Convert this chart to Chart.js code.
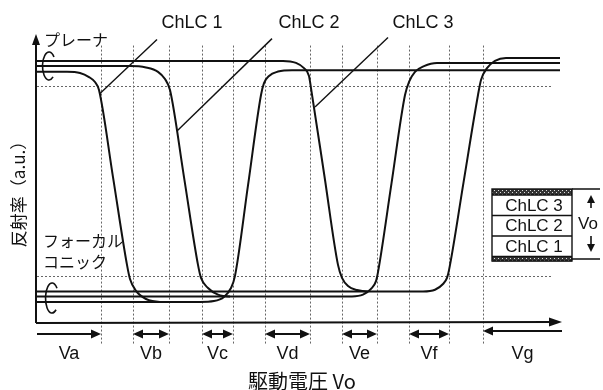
<!DOCTYPE html>
<html lang="ja">
<head>
<meta charset="utf-8">
<script src="https://cdn.jsdelivr.net/npm/chart.js@4.4.1/dist/chart.umd.min.js"></script>
<style>
  html, body { margin: 0; padding: 0; background: #ffffff; }
  #wrap { width: 603px; height: 390px; }
</style>
</head>
<body>
<div id="wrap"><canvas id="grafica" width="603" height="390"></canvas></div>
<script>
// Reflectance curves (x = drive voltage, y = reflectance a.u.)
// Path starting from the planar state
const chlc1Planar = [[0,86.9],[6,86.9],[8.6,86.5],[10.4,85.1],[11.6,83.4],[12.4,80.6],[15.2,50.5],[18,20.1],[18.6,15.2],[19.8,11.1],[21.8,8.3],[24.6,7.3],[32.6,7.3],[35.4,7.6],[37.4,9.0],[38.8,12.1],[39.6,16.3],[42.2,47.6],[44.8,78.9],[45.4,83.0],[46.4,85.5],[48.2,87.0],[51,87.5],[104.6,87.5]];
const chlc2Planar = [[0,88.9],[18.6,88.9],[21.8,88.4],[24.2,86.9],[25.6,84.4],[26.6,80.6],[29.4,50.5],[32.2,20.1],[32.8,15.6],[34.2,12.1],[36.2,9.8],[38.6,9.2],[63,9.2],[65.2,9.8],[66.8,11.8],[67.8,14.5],[68.2,17.6],[70.9,48.3],[73.6,78.9],[74.4,83.4],[75.6,86.9],[77.4,88.9],[80,90],[104.6,90]];
const chlc3Planar = [[0,90.7],[49.2,90.7],[51.8,90.0],[53.4,88.2],[54.4,85.5],[54.8,81.3],[57.5,50.7],[60.2,20.1],[61,15.6],[62.2,12.8],[64,11.4],[66.2,10.9],[77.2,10.9],[79.6,11.5],[81.2,13.5],[82,15.6],[82.4,18.3],[85.3,48.6],[88.2,78.9],[88.8,84.1],[90,88.2],[91.6,90.7],[93.8,91.7],[104.6,91.7]];

// Path starting from the focal conic state
const chlc1Focal = [[0,7.3],[32.6,7.3]];
const chlc2Focal = [[0,9.2],[38.6,9.2]];
const chlc3Focal = [[0,10.9],[66.2,10.9]];

// Voltage boundaries (dotted verticals) and reflectance thresholds (dotted horizontals)
const boundaries = [12.8, 19.2, 26.4, 33, 39.2, 45.6, 54.6, 61, 68, 74.4, 82.4, 89.2];
const thresholds = [82.0, 16.3];

// Voltage ranges below the axis
const rangeLabels = ["Va", "Vb", "Vc", "Vd", "Ve", "Vf", "Vg"];
const rangeStart = [0, 19.2, 33, 45.6, 61, 74.4, 89.2];
const rangeEnd = [12.8, 26.4, 39.2, 54.6, 68, 82.4, 105];
const rangeHeads = ["right", "both", "both", "both", "both", "both", "left"];

// Curve names with leader lines [label x, leader from x,y, leader to x,y]
const curveNames = ["ChLC 1", "ChLC 2", "ChLC 3"];
const nameX = [31, 54.4, 77.2];
const leaderFrom = [[24, 98.1], [47, 98.4], [70.2, 98.8]];
const leaderTo = [[12.6, 79.4], [28, 66.4], [55.6, 74.7]];

// Layer stack shown on the right
const stackRows = ["ChLC 3", "ChLC 2", "ChLC 1"];

const toXY = arr => arr.map(p => ({ x: p[0], y: p[1] }));

const jpFont = '"Noto Sans CJK JP", "Noto Sans", sans-serif';
const latinFont = '"Liberation Sans", Arial, sans-serif';

// Draws a filled arrow head with its tip at (x, y) pointing along angle
function arrowHead(ctx, x, y, angle, len, half) {
    ctx.save();
    ctx.translate(x, y);
    ctx.rotate(angle);
    ctx.beginPath();
    ctx.moveTo(0, 0);
    ctx.lineTo(-len, -half);
    ctx.lineTo(-len, half);
    ctx.closePath();
    ctx.fill();
    ctx.restore();
}

// Small cross-hatch used on the top and bottom of the layer stack
function hatchPattern(ctx) {
    const c = document.createElement("canvas");
    c.width = 4;
    c.height = 4;
    const g = c.getContext("2d");
    g.fillStyle = "#333";
    g.fillRect(0, 0, 4, 4);
    g.fillStyle = "#ddd";
    g.fillRect(0, 0, 1, 1);
    g.fillRect(2, 2, 1, 1);
    return ctx.createPattern(c, "repeat");
}

const diagramPlugin = {
    id: "diagramPlugin",

    // Dotted guides under the curves
    beforeDatasetsDraw(chart) {
        const { ctx, scales: { x, y } } = chart;
        ctx.save();
        ctx.strokeStyle = "#666";
        ctx.lineWidth = 1;
        ctx.setLineDash([2, 2]);

        boundaries.forEach(v => {
            const px = Math.round(x.getPixelForValue(v)) + 0.5;
            ctx.beginPath();
            ctx.moveTo(px, y.getPixelForValue(96));
            ctx.lineTo(px, y.getPixelForValue(-7.6));
            ctx.stroke();
        });

        thresholds.forEach(t => {
            const py = Math.round(y.getPixelForValue(t)) + 0.5;
            ctx.beginPath();
            ctx.moveTo(x.getPixelForValue(0), py);
            ctx.lineTo(x.getPixelForValue(103.2), py);
            ctx.stroke();
        });
        ctx.restore();
    },

    afterDatasetsDraw(chart) {
        const { ctx, chartArea, scales: { x, y } } = chart;
        ctx.save();
        ctx.strokeStyle = "#111";
        ctx.fillStyle = "#111";
        ctx.lineCap = "butt";

        // Axes
        const x0 = chartArea.left - 1;
        const y0 = chartArea.bottom;
        ctx.lineWidth = 2;
        ctx.beginPath();
        ctx.moveTo(x0, y0);
        ctx.lineTo(x0, chartArea.top + 8);
        ctx.moveTo(x0, y0);
        ctx.lineTo(chartArea.right - 8, y0 - 1);
        ctx.stroke();
        arrowHead(ctx, x0, chartArea.top, -Math.PI / 2, 11, 4);
        arrowHead(ctx, chartArea.right, y0 - 1, 0, 13, 4.5);

        // Voltage range arrows and labels
        ctx.lineWidth = 2;
        ctx.font = "18px " + latinFont;
        ctx.textAlign = "center";
        ctx.textBaseline = "middle";
        rangeLabels.forEach((label, i) => {
            const a = x.getPixelForValue(rangeStart[i]);
            const b = x.getPixelForValue(rangeEnd[i]);
            const ay = i === 6 ? y.getPixelForValue(-2.8) : y.getPixelForValue(-3.8);
            const head = rangeHeads[i];
            const aa = head === "left" || head === "both" ? a + 8 : a;
            const bb = head === "right" || head === "both" ? b - 8 : b;
            ctx.beginPath();
            ctx.moveTo(aa, ay);
            ctx.lineTo(bb, ay);
            ctx.stroke();
            if (head === "right" || head === "both") arrowHead(ctx, b, ay, 0, 10, 4.5);
            if (head === "left" || head === "both") arrowHead(ctx, a, ay, Math.PI, 10, 4.5);
            ctx.fillText(label, (a + b) / 2, y.getPixelForValue(-10.9));
        });

        // Curve names and leader lines
        ctx.lineWidth = 1.4;
        curveNames.forEach((name, i) => {
            ctx.fillText(name, x.getPixelForValue(nameX[i]), y.getPixelForValue(103.8));
            ctx.beginPath();
            ctx.moveTo(x.getPixelForValue(leaderFrom[i][0]), y.getPixelForValue(leaderFrom[i][1]));
            ctx.lineTo(x.getPixelForValue(leaderTo[i][0]), y.getPixelForValue(leaderTo[i][1]));
            ctx.stroke();
        });

        // Loops grouping the planar and focal conic lines
        ctx.lineWidth = 1.6;
        ctx.beginPath();
        ctx.ellipse(49, 66, 6.5, 14, 0, -0.7, 0.9, true);
        ctx.stroke();
        ctx.beginPath();
        ctx.ellipse(52, 298, 6.5, 15, 0, -0.7, 0.9, true);
        ctx.stroke();

        // Japanese state labels
        ctx.textAlign = "left";
        ctx.font = "16px " + jpFont;
        ctx.fillText("プレーナ", 44, 40);
        ctx.fillText("フォーカル", 43, 241);
        ctx.fillText("コニック", 43, 262);

        // Axis titles
        ctx.textAlign = "center";
        ctx.font = "20px " + jpFont;
        ctx.fillText("駆動電圧 Vo", 302, 381);
        ctx.save();
        ctx.translate(19, 190);
        ctx.rotate(-Math.PI / 2);
        ctx.font = "17px " + jpFont;
        ctx.fillText("反射率（a.u.）", 0, 0);
        ctx.restore();

        // Layer stack
        const bx = 492, bw = 80;
        const rowTop = 195, rowH = 20.5;
        ctx.fillStyle = hatchPattern(ctx);
        ctx.fillRect(bx, 189, bw, 6);
        ctx.fillRect(bx, rowTop + rowH * 3, bw, 5);
        ctx.fillStyle = "#111";
        ctx.lineWidth = 1.4;
        ctx.strokeRect(bx, 189, bw, 72);
        ctx.font = "17px " + latinFont;
        ctx.textAlign = "center";
        stackRows.forEach((row, i) => {
            const top = rowTop + rowH * i;
            ctx.beginPath();
            ctx.moveTo(bx, top);
            ctx.lineTo(bx + bw, top);
            ctx.stroke();
            ctx.fillText(row, bx + 42, top + rowH / 2 + 1);
        });
        ctx.beginPath();
        ctx.moveTo(bx, rowTop + rowH * 3);
        ctx.lineTo(bx + bw, rowTop + rowH * 3);
        ctx.moveTo(bx + bw, 189);
        ctx.lineTo(600, 189);
        ctx.moveTo(bx + bw, 259);
        ctx.lineTo(600, 259);
        ctx.stroke();

        // Vo applied across the stack
        ctx.lineWidth = 1.6;
        ctx.beginPath();
        ctx.moveTo(591, 208);
        ctx.lineTo(591, 201);
        ctx.moveTo(591, 236);
        ctx.lineTo(591, 246);
        ctx.stroke();
        arrowHead(ctx, 591, 195, -Math.PI / 2, 8, 4);
        arrowHead(ctx, 591, 252, Math.PI / 2, 8, 4);
        ctx.fillText("Vo", 588, 224);

        ctx.restore();
    }
};

const lineStyle = {
    borderColor: "#111",
    borderWidth: 2,
    pointRadius: 0,
    fill: false,
    cubicInterpolationMode: "monotone"
};

new Chart(document.getElementById("grafica"), {
    type: "line",
    data: {
        datasets: [
            { label: "ChLC 1", data: toXY(chlc1Planar), ...lineStyle },
            { label: "ChLC 2", data: toXY(chlc2Planar), ...lineStyle },
            { label: "ChLC 3", data: toXY(chlc3Planar), ...lineStyle },
            { label: "ChLC 1 FC", data: toXY(chlc1Focal), ...lineStyle },
            { label: "ChLC 2 FC", data: toXY(chlc2Focal), ...lineStyle },
            { label: "ChLC 3 FC", data: toXY(chlc3Focal), ...lineStyle }
        ]
    },
    options: {
        responsive: false,
        animation: false,
        devicePixelRatio: 1,
        layout: { padding: { left: 37, right: 41, top: 34, bottom: 67 } },
        scales: {
            x: { type: "linear", min: 0, max: 105, display: false },
            y: { type: "linear", min: 0, max: 100, display: false }
        },
        plugins: {
            legend: { display: false },
            tooltip: { enabled: false }
        }
    },
    plugins: [diagramPlugin]
});
</script>
</body>
</html>
